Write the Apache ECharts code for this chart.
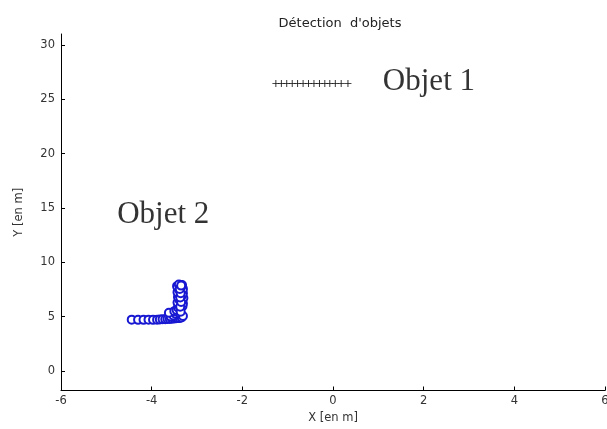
<!DOCTYPE html>
<html>
<head>
<meta charset="utf-8">
<script src="https://cdn.jsdelivr.net/npm/echarts@6/dist/echarts.min.js"></script>
<style>
  html, body { margin: 0; padding: 0; background: #fff; }
  #chart { width: 607px; height: 429px; }
</style>
</head>
<body>
<div id="chart"></div>
<script>
// Detected points of object 1 (plus markers), in metres
const objet1X = [-1.26, -1.14, -1.02, -0.90, -0.78, -0.66, -0.54, -0.42, -0.30, -0.18, -0.07, 0.05, 0.18, 0.33];
const objet1Y = [26.44, 26.44, 26.44, 26.44, 26.44, 26.44, 26.44, 26.44, 26.44, 26.44, 26.44, 26.44, 26.44, 26.44];

// Detected points of object 2 (circle markers), in metres
const objet2X = [
  -4.44, -4.30, -4.18, -4.07, -3.97,
  -3.88, -3.82, -3.76, -3.70, -3.65, -3.60, -3.55, -3.50, -3.46, -3.42, -3.38, -3.34,
  -3.58, -3.52, -3.47, -3.62, -3.50, -3.42, -3.36, -3.31, -3.45, -3.38,
  -3.42, -3.32, -3.40, -3.31, -3.43, -3.33, -3.39, -3.30, -3.42, -3.33,
  -3.40, -3.31, -3.43, -3.34, -3.39, -3.31, -3.42, -3.35, -3.44, -3.36, -3.40, -3.33,
  -3.36, -3.37, -3.35, -3.37, -3.36, -3.38, -3.35
];
const objet2Y = [
  4.72, 4.70, 4.70, 4.72, 4.70,
  4.72, 4.74, 4.75, 4.76, 4.78, 4.78, 4.80, 4.82, 4.84, 4.86, 4.88, 4.92,
  5.00, 5.10, 5.25, 5.36, 5.50, 5.40, 5.20, 5.05, 5.60, 5.75,
  5.85, 5.95, 6.05, 6.20, 6.30, 6.45, 6.55, 6.70, 6.80, 6.95,
  7.05, 7.15, 7.25, 7.35, 7.45, 7.55, 7.65, 7.72, 7.80, 7.88, 7.95, 7.90,
  5.45, 5.90, 6.35, 6.75, 7.15, 7.55, 7.85
];

// Axis ticks
const xTicks = [-6, -4, -2, 0, 2, 4, 6];
const yTicks = [0, 5, 10, 15, 20, 25, 30];

// Text annotations: [x, y, text]
const annotations = [
  [1.10, 26.6, 'Objet 1'],
  [-4.76, 14.4, 'Objet 2']
];

const pair = (xs, ys) => xs.map((x, i) => [x, ys[i]]);

const plusPath = 'path://M0,4.4H10V5.6H0Z M4.4,0H5.6V10H4.4Z';
const uiFont = 'DejaVu Sans, Verdana, sans-serif';
const tickFont = { fontFamily: uiFont, fontSize: 11.5, color: '#333' };
const blue = '#1818d2';

const chart = echarts.init(document.getElementById('chart'), null, { renderer: 'canvas' });
chart.setOption({
  animation: false,
  backgroundColor: '#fff',
  title: {
    text: 'Détection  d\'objets',
    left: 335,
    textAlign: 'center',
    top: 12,
    textStyle: { fontFamily: uiFont, fontSize: 13, fontWeight: 'normal', color: '#222' }
  },
  grid: { left: 61, right: 2, top: 34, bottom: 38.5, outerBoundsMode: 'none', containLabel: false },
  xAxis: {
    type: 'value',
    min: -6, max: 6, interval: 2,
    name: 'X [en m]',
    nameLocation: 'middle',
    nameGap: 15,
    nameTextStyle: tickFont,
    axisLine: { onZero: false, lineStyle: { color: '#000', width: 1 } },
    axisLabel: Object.assign({ margin: 5, customValues: xTicks, showMaxLabel: true, showMinLabel: true }, tickFont),
    axisTick: { inside: true, length: 4, lineStyle: { color: '#000' }, customValues: xTicks },
    splitLine: { show: false }
  },
  yAxis: {
    type: 'value',
    min: -1.8, max: 31,
    name: 'Y [en m]',
    nameLocation: 'middle',
    nameGap: 36,
    nameTextStyle: tickFont,
    axisLine: { onZero: false, lineStyle: { color: '#000', width: 1 } },
    axisTick: { inside: true, length: 4, lineStyle: { color: '#000' }, customValues: yTicks },
    axisLabel: Object.assign({ margin: 6, customValues: yTicks }, tickFont),
    splitLine: { show: false }
  },
  series: [
    {
      name: 'Objet 1',
      type: 'scatter',
      data: pair(objet1X, objet1Y),
      symbol: plusPath,
      symbolSize: 7,
      itemStyle: { color: '#111', opacity: 1 }
    },
    {
      name: 'Objet 2',
      type: 'scatter',
      data: pair(objet2X, objet2Y),
      symbol: 'emptyCircle',
      symbolSize: 8,
      itemStyle: { color: blue, borderColor: blue, borderWidth: 1.7, opacity: 1 }
    },
    {
      name: 'annotations',
      type: 'scatter',
      symbolSize: 0,
      silent: true,
      data: annotations.map(a => ({ value: [a[0], a[1]], name: a[2] })),
      label: {
        show: true,
        position: 'right',
        distance: 0,
        formatter: p => p.name,
        fontFamily: 'Liberation Serif, Times New Roman, serif',
        fontSize: 31,
        color: '#000'
      }
    }
  ]
});
</script>
</body>
</html>
